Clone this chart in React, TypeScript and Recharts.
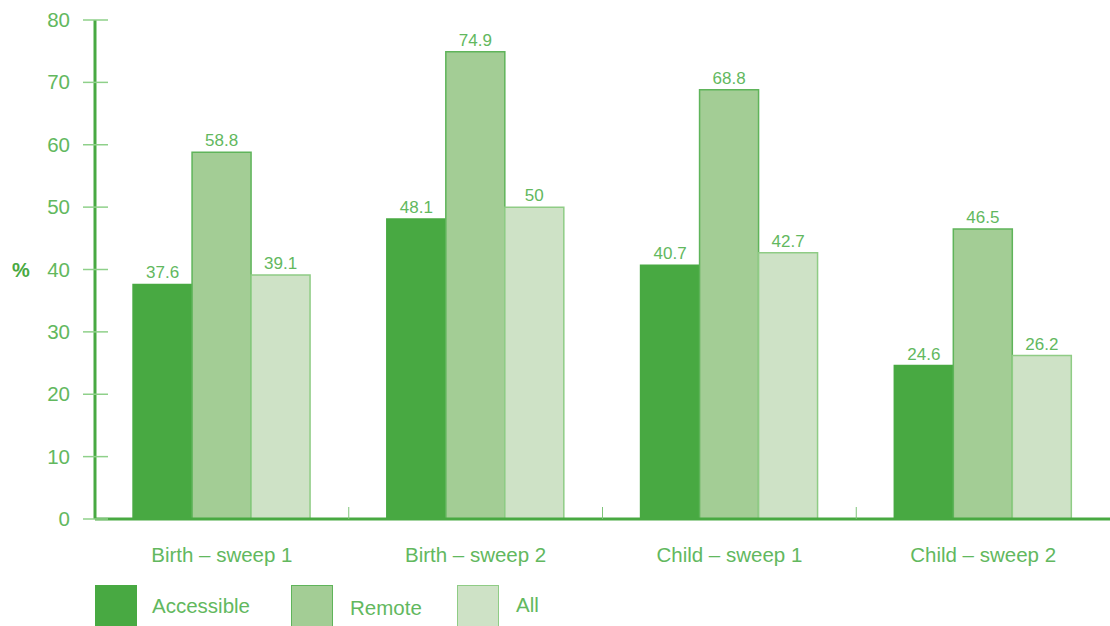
import { BarChart, Bar, XAxis, YAxis, LabelList } from 'recharts';

const categories = ['Birth – sweep 1', 'Birth – sweep 2', 'Child – sweep 1', 'Child – sweep 2'];
const accessible = [37.6, 48.1, 40.7, 24.6];
const remote = [58.8, 74.9, 68.8, 46.5];
const all = [39.1, 50, 42.7, 26.2];
const yTicks = [0, 10, 20, 30, 40, 50, 60, 70, 80];

const SERIES = [
  { key: 'accessible', name: 'Accessible', fill: '#48a942', stroke: '#48a942', left: 95, textTop: 0 },
  { key: 'remote', name: 'Remote', fill: '#a3cd95', stroke: '#5fb45a', left: 291, textTop: 3 },
  { key: 'all', name: 'All', fill: '#cee2c6', stroke: '#8fcc85', left: 457, textTop: -2 },
];

const TEXT = '#62b85e';
const AXIS = '#48a942';
const FONT = '"Liberation Sans", Arial, sans-serif';

const data = categories.map((name, i) => ({
  name,
  accessible: accessible[i],
  remote: remote[i],
  all: all[i],
}));

const BAND = (1110 - 95) / categories.length;

function XTick(props: any) {
  const { x, y, payload, index } = props;
  const axisY = y - 26;
  return (
    <g>
      {index < categories.length - 1 && (
        <line x1={x + BAND / 2} x2={x + BAND / 2} y1={axisY} y2={axisY - 12} stroke="#7fc47a" strokeWidth={1} />
      )}
      <text x={x} y={y + 17} textAnchor="middle" fill={TEXT} fontSize={20.5} fontFamily={FONT}>
        {payload.value}
      </text>
    </g>
  );
}

function YTick(props: any) {
  const { x, y, payload } = props;
  const axisX = x + 25;
  return (
    <g>
      <line x1={axisX - 12} x2={axisX + 13} y1={y} y2={y} stroke="#8fd08a" strokeWidth={1.5} />
      <text x={x} y={y + 7} textAnchor="end" fill={TEXT} fontSize={20.5} fontFamily={FONT}>
        {payload.value}
      </text>
    </g>
  );
}

export default function App() {
  return (
    <div style={{ position: 'absolute', left: 0, top: 0, width: 1110, height: 626, background: '#fff', fontFamily: FONT }}>
      <BarChart
        width={1110}
        height={626}
        data={data}
        margin={{ top: 20, right: 0, bottom: 0, left: 0 }}
        barCategoryGap="15%"
        barGap={0}
      >
        <XAxis
          dataKey="name"
          height={107}
          axisLine={{ stroke: AXIS, strokeWidth: 3 }}
          tickLine={false}
          tickSize={0}
          tickMargin={26}
          tick={<XTick />}
          interval={0}
        />
        <YAxis
          width={95}
          domain={[0, 80]}
          ticks={yTicks}
          axisLine={{ stroke: AXIS, strokeWidth: 3 }}
          tickLine={false}
          tickSize={0}
          tickMargin={25}
          tick={<YTick />}
          interval={0}
          label={{ value: '%', position: 'insideLeft', offset: 12, fill: AXIS, fontSize: 20, fontWeight: 'bold', fontFamily: FONT }}
        />
        {SERIES.map((s) => (
          <Bar
            key={s.key}
            dataKey={s.key}
            name={s.name}
            fill={s.fill}
            stroke={s.stroke}
            strokeWidth={1.5}
            isAnimationActive={false}
          >
            <LabelList dataKey={s.key} position="top" offset={6} fill={TEXT} fontSize={17} fontFamily={FONT} />
          </Bar>
        ))}
      </BarChart>
      {SERIES.map((s) => (
        <div key={s.key} style={{ position: 'absolute', top: 585, left: s.left, display: 'flex', alignItems: 'center' }}>
          <div
            style={{
              width: 42,
              height: 42,
              boxSizing: 'border-box',
              background: s.fill,
              border: `1.5px solid ${s.stroke}`,
            }}
          />
          <span style={{ marginLeft: s.key === 'accessible' ? 15 : 17, marginTop: s.textTop, color: TEXT, fontSize: 20.5, fontFamily: FONT }}>
            {s.name}
          </span>
        </div>
      ))}
    </div>
  );
}
